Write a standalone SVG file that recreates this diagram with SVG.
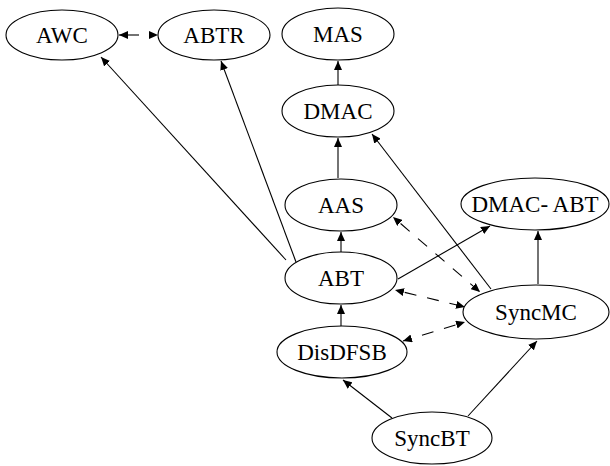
<svg xmlns="http://www.w3.org/2000/svg" width="610" height="466" viewBox="0 0 610 466">
  <defs>
    <marker id="ah" markerUnits="userSpaceOnUse" markerWidth="10" markerHeight="8" refX="9" refY="4" orient="auto-start-reverse">
      <path d="M0,0 L9,4 L0,8 Z" fill="#000"/>
    </marker>
  </defs>
  <style>
    ellipse { fill: #fff; stroke: #000; stroke-width: 1.1; }
    .e { stroke: #000; stroke-width: 1.1; fill: none; marker-end: url(#ah); }
    .d { stroke-dasharray: 12 11; stroke-dashoffset: -10; marker-start: url(#ah); }
  </style>
  <rect width="610" height="466" fill="#fff"/>
  <g id="edges">
    <line class="e d" x1="119" y1="35" x2="158" y2="35" style="stroke-dasharray:20 20;stroke-dashoffset:0"/>
    <line class="e" x1="286" y1="260" x2="101" y2="57"/>
    <line class="e" x1="296" y1="262" x2="221" y2="61"/>
    <line class="e" x1="338" y1="85" x2="338" y2="61"/>
    <line class="e" x1="338" y1="178" x2="338" y2="138"/>
    <line class="e" x1="341" y1="252" x2="341" y2="232"/>
    <line class="e" x1="491" y1="289" x2="372" y2="134"/>
    <line class="e" x1="398" y1="279" x2="490" y2="226"/>
    <line class="e" x1="538" y1="284" x2="538" y2="231"/>
    <line class="e d" x1="393" y1="217" x2="480" y2="292"/>
    <line class="e d" x1="395" y1="290" x2="465" y2="307"/>
    <line class="e d" x1="465" y1="322" x2="403" y2="341"/>
    <line class="e" x1="341" y1="326" x2="341" y2="305"/>
    <line class="e" x1="392" y1="418" x2="343" y2="380"/>
    <line class="e" x1="468" y1="416" x2="537" y2="341"/>
  </g>
  <g font-family="'Liberation Serif', 'Times New Roman', 'DejaVu Serif', serif" font-size="23" text-anchor="middle" fill="#000">
    <g id="AWC"><ellipse cx="62" cy="35" rx="56" ry="25"/><text x="62" y="43">AWC</text></g>
    <g id="ABTR"><ellipse cx="214" cy="35" rx="56" ry="25"/><text x="214" y="43">ABTR</text></g>
    <g id="MAS"><ellipse cx="338" cy="34" rx="56" ry="26"/><text x="338" y="42">MAS</text></g>
    <g id="DMAC"><ellipse cx="338" cy="111" rx="56" ry="26"/><text x="338" y="119">DMAC</text></g>
    <g id="AAS"><ellipse cx="341" cy="205" rx="56" ry="26"/><text x="341" y="213">AAS</text></g>
    <g id="DMAC-ABT"><ellipse cx="535" cy="204" rx="74" ry="26"/><text x="535" y="212">DMAC- ABT</text></g>
    <g id="ABT"><ellipse cx="341" cy="278" rx="56" ry="26"/><text x="341" y="286">ABT</text></g>
    <g id="SyncMC"><ellipse cx="536" cy="312" rx="73" ry="27"/><text x="536" y="320">SyncMC</text></g>
    <g id="DisDFSB"><ellipse cx="342" cy="352" rx="65" ry="26"/><text x="342" y="360">DisDFSB</text></g>
    <g id="SyncBT"><ellipse cx="432" cy="438" rx="60" ry="26"/><text x="432" y="446">SyncBT</text></g>
  </g>
</svg>
